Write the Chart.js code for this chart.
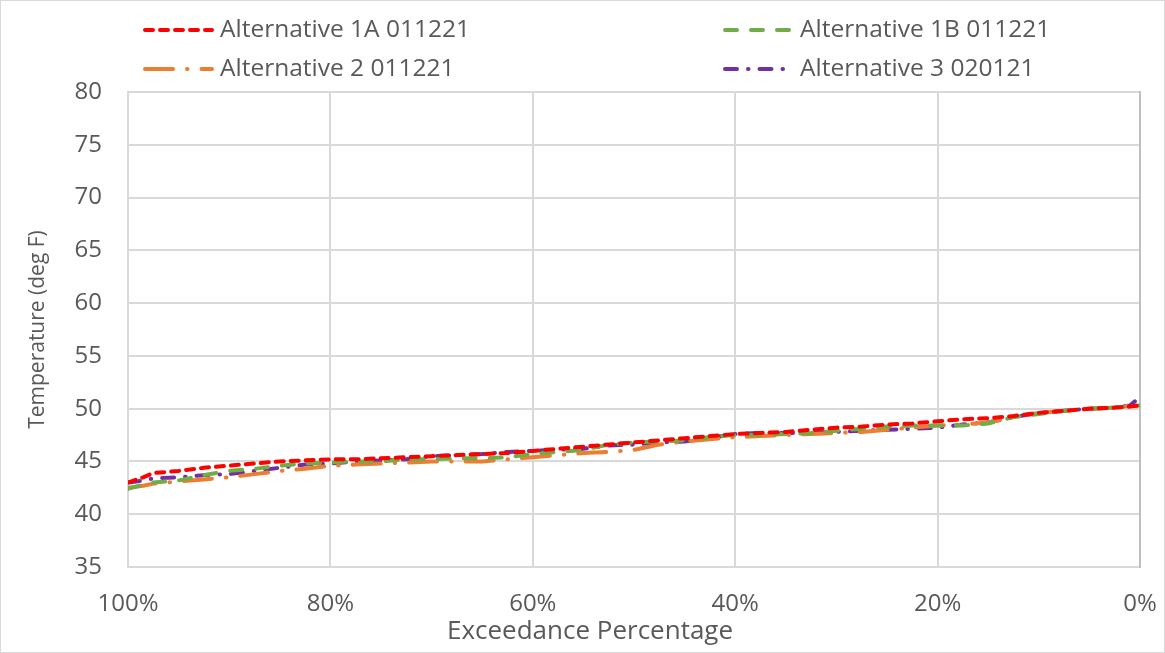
<!DOCTYPE html>
<html>
<head>
<meta charset="utf-8">
<script src="https://cdn.jsdelivr.net/npm/chart.js@4"></script>
<style>
  body { margin: 0; background: #fff; }
  #wrap { position: relative; width: 1165px; height: 653px; box-sizing: border-box; border: 1px solid #d9d9d9; }
</style>
</head>
<body>
<div id="wrap"><canvas id="chart"></canvas></div>
<script>
// Exceedance percentage (x) for every sample
const exceedance = [
  100, 98.5, 97.5, 95, 92.5, 90,
  87.5, 85, 82.5, 80, 77.5, 75, 72.5, 70,
  67.5, 65, 62.5, 60, 57.5, 55, 52.5, 50,
  47.5, 45, 42.5, 40, 37.5, 35, 32.5, 30,
  27.5, 25, 22.5, 20, 17.5, 15, 12.5, 10,
  7.5, 5, 2.5, 1, 0
];

// Temperatures (deg F)
const alt1A = [
  43.0, 43.5, 43.9, 44.1, 44.4, 44.6,
  44.8, 45.0, 45.1, 45.2, 45.2, 45.3, 45.4, 45.5,
  45.6, 45.7, 45.8, 46.0, 46.2, 46.4, 46.6, 46.8,
  47.0, 47.2, 47.4, 47.6, 47.7, 47.8, 48.0, 48.2,
  48.3, 48.5, 48.6, 48.8, 49.0, 49.1, 49.3, 49.6,
  49.8, 50.0, 50.1, 50.2, 50.3
];
const alt1B = [
  42.4, 42.8, 43.0, 43.2, 43.7, 44.1,
  44.3, 44.6, 44.8, 44.9, 45.0, 45.0, 45.2, 45.2,
  45.3, 45.3, 45.4, 45.7, 45.9, 46.1, 46.6, 46.8,
  46.9, 47.0, 47.3, 47.5, 47.5, 47.6, 47.7, 47.9,
  48.1, 48.3, 48.4, 48.4, 48.4, 48.6, 49.2, 49.5,
  49.8, 50.0, 50.1, 50.2, 50.3
];
const alt2 = [
  42.5, 42.7, 42.9, 43.1, 43.3, 43.5,
  43.8, 44.1, 44.3, 44.6, 44.7, 44.8, 44.9, 45.0,
  45.0, 45.0, 45.2, 45.4, 45.6, 45.8, 45.9, 46.1,
  46.6, 46.9, 47.1, 47.3, 47.4, 47.5, 47.6, 47.7,
  47.8, 48.0, 48.2, 48.4, 48.5, 48.7, 49.2, 49.6,
  49.8, 50.0, 50.1, 50.3, 50.6
];
const alt3 = [
  43.0, 43.2, 43.4, 43.5, 43.7, 43.8,
  44.1, 44.4, 44.7, 44.8, 45.0, 45.1, 45.2, 45.5,
  45.6, 45.7, 45.9, 46.0, 46.1, 46.2, 46.5, 46.6,
  46.8, 46.9, 47.2, 47.6, 47.7, 47.7, 47.7, 47.8,
  47.9, 48.0, 48.1, 48.2, 48.5, 48.7, 49.2, 49.6,
  49.8, 50.0, 50.1, 50.3, 51.1
];

const seriesNames = ['Alternative 1A 011221', 'Alternative 1B 011221', 'Alternative 2 011221', 'Alternative 3 020121'];
const xTickValues = [100, 80, 60, 40, 20, 0];
const yTickValues = [35, 40, 45, 50, 55, 60, 65, 70, 75, 80];

const textColor = '#595959';
const gridColor = '#d9d9d9';
Chart.defaults.font.family = "'Open Sans', sans-serif";
Chart.defaults.color = textColor;

function toPoints(vals) {
  return exceedance.map((x, i) => ({ x: x, y: vals[i] }));
}

function makeSeries(label, vals, color, dash) {
  return {
    label: label,
    data: toPoints(vals),
    borderColor: color,
    backgroundColor: color,
    borderWidth: 4,
    borderDash: dash,
    borderCapStyle: 'round',
    pointRadius: 0,
    tension: 0,
    fill: false
  };
}

// Legend laid out as a 2x2 grid like the original, plus the x axis title
// (Excel centres it on the whole chart, not on the plot area)
const legendSpots = [[142, 29], [722, 29], [142, 68], [722, 68]];
const gridLegend = {
  id: 'gridLegend',
  afterDraw(chart) {
    const ctx = chart.ctx;
    chart.data.datasets.forEach((ds, i) => {
      const [x, y] = legendSpots[i];
      ctx.save();
      ctx.strokeStyle = ds.borderColor;
      ctx.lineWidth = 4;
      ctx.lineCap = 'round';
      ctx.setLineDash(ds.borderDash);
      ctx.beginPath();
      ctx.moveTo(x + 2, y);
      ctx.lineTo(x + 69, y);
      ctx.stroke();
      ctx.setLineDash([]);
      ctx.fillStyle = textColor;
      ctx.font = "24.5px 'Open Sans', sans-serif";
      ctx.textBaseline = 'middle';
      ctx.fillText(ds.label, x + 77, y);
      ctx.restore();
    });
    ctx.save();
    ctx.fillStyle = textColor;
    ctx.font = "26px 'Open Sans', sans-serif";
    ctx.textAlign = 'center';
    ctx.textBaseline = 'middle';
    ctx.fillText('Exceedance Percentage', 589, 631);
    ctx.restore();
  }
};

new Chart(document.getElementById('chart'), {
  type: 'line',
  data: {
    datasets: [
      makeSeries(seriesNames[0], alt1A, '#ff0000', [8, 7]),
      makeSeries(seriesNames[1], alt1B, '#70ad47', [12, 14]),
      makeSeries(seriesNames[2], alt2, '#ed7d31', [28, 14, 0.5, 14]),
      makeSeries(seriesNames[3], alt3, '#7030a0', [12, 11, 0.5, 11])
    ]
  },
  options: {
    responsive: true,
    maintainAspectRatio: false,
    animation: false,
    layout: { padding: { top: 91, right: 24, bottom: 7, left: 24 } },
    plugins: {
      legend: { display: false },
      tooltip: { enabled: false }
    },
    scales: {
      x: {
        type: 'linear',
        reverse: true,
        min: 0,
        max: 100,
        afterBuildTicks: (scale) => { scale.ticks = xTickValues.map(v => ({ value: v })); },
        afterFit: (scale) => {
          scale.height = 78;
          scale.paddingLeft = 0;
          scale.paddingRight = 0;
        },
        ticks: {
          padding: 23,
          font: { size: 24 },
          callback: (v) => v + '%'
        },
        grid: { color: gridColor, lineWidth: 2, drawTicks: false },
        border: { color: gridColor, width: 2 }
      },
      y: {
        min: 35,
        max: 80,
        afterBuildTicks: (scale) => { scale.ticks = yTickValues.map(v => ({ value: v })); },
        afterFit: (scale) => { scale.width = 103; },
        ticks: { padding: 26, font: { size: 24 } },
        grid: { color: gridColor, lineWidth: 2, drawTicks: false },
        border: { color: gridColor, width: 2 },
        title: {
          display: true,
          text: 'Temperature (deg F)',
          font: { size: 21 },
          padding: { top: 0, bottom: 0 }
        }
      },
      yRight: {
        position: 'right',
        min: 35,
        max: 80,
        ticks: { display: false },
        grid: { display: false, drawTicks: false },
        border: { color: '#bfbfbf', width: 2 },
        afterFit: (scale) => {
          scale.width = 0;
          scale.paddingTop = 0;
          scale.paddingBottom = 0;
        }
      }
    }
  },
  plugins: [gridLegend]
});
</script>
</body>
</html>
